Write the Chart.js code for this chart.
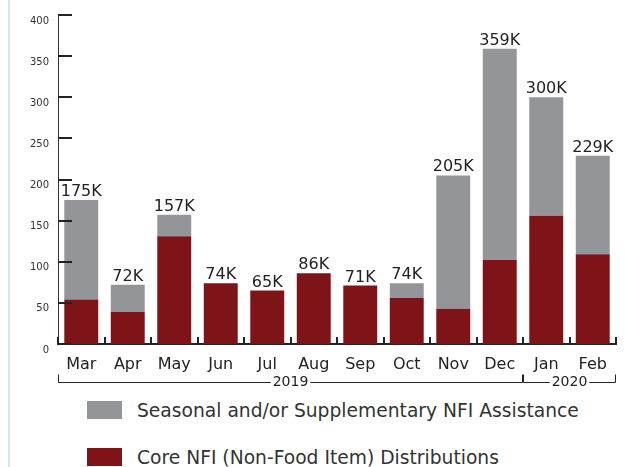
<!DOCTYPE html>
<html>
<head>
<meta charset="utf-8">
<script src="https://cdn.jsdelivr.net/npm/chart.js@4"></script>
<style>
  body { margin: 0; background: #fff; font-family: "DejaVu Sans", sans-serif; }
  #wrap { position: relative; width: 625px; height: 467px; overflow: hidden; background: #fff; }
  #edge { position: absolute; left: 8px; top: 0; width: 2px; height: 467px; background: #dbe5f1; }
  #box { position: absolute; left: 0; top: 0; width: 625px; height: 395px; }
  .item { position: absolute; left: 87px; height: 18px; }
  .item span.sw { position: absolute; left: 0; top: 0; width: 35px; height: 18px; }
  .item span.tx { position: absolute; left: 50px; top: 0; line-height: 19px; font-size: 18.7px; color: #333; white-space: nowrap; }
</style>
</head>
<body>
<div id="wrap">
  <div id="edge"></div>
  <div id="box"><canvas id="chart"></canvas></div>
  <div id="legend"></div>
</div>
<script>
// months and the year each belongs to
const months = ['Mar', 'Apr', 'May', 'Jun', 'Jul', 'Aug', 'Sep', 'Oct', 'Nov', 'Dec', 'Jan', 'Feb'];
const years = ['2019', '2019', '2019', '2019', '2019', '2019', '2019', '2019', '2019', '2019', '2020', '2020'];

// thousands of items
const coreNFI = [54, 39, 131, 74, 65, 86, 71, 56, 43, 102, 156, 109];
const seasonalNFI = [121, 33, 26, 0, 0, 0, 0, 18, 162, 257, 144, 120];

const seriesNames = ['Core NFI (Non-Food Item) Distributions', 'Seasonal and/or Supplementary NFI Assistance'];
const seriesColors = ['#7e1418', '#939598'];

const yMax = 400;
const yStep = 50;

const extras = {
    id: 'extras',
    afterDatasetsDraw(chart) {
        const { ctx, chartArea, scales: { x, y } } = chart;
        ctx.save();
        ctx.strokeStyle = '#222';

        // y tick marks point into the plot
        ctx.lineWidth = 2;
        y.ticks.forEach(t => {
            const py = Math.round(y.getPixelForValue(t.value));
            ctx.beginPath();
            ctx.moveTo(chartArea.left, py);
            ctx.lineTo(chartArea.left + 14, py);
            ctx.stroke();
        });

        // little ticks between months
        const step = x.getPixelForValue(1) - x.getPixelForValue(0);
        for (let i = 0; i <= months.length; i++) {
            const px = Math.round(x.getPixelForValue(i) - step / 2);
            ctx.beginPath();
            ctx.moveTo(px, chartArea.bottom);
            ctx.lineTo(px, chartArea.bottom - 7);
            ctx.stroke();
        }

        // totals on top
        const top = chart.getDatasetMeta(1);
        ctx.font = '16px "DejaVu Sans"';
        ctx.fillStyle = '#222';
        ctx.textAlign = 'center';
        ctx.textBaseline = 'alphabetic';
        top.data.forEach((bar, i) => {
            const total = coreNFI[i] + seasonalNFI[i];
            ctx.fillText(total + 'K', bar.x, bar.y - 4);
        });

        // year brackets
        const lineY = 382.5;
        ctx.lineWidth = 1;
        ctx.font = '14px "DejaVu Sans"';
        ctx.textBaseline = 'middle';
        let start = 0;
        for (let i = 1; i <= years.length; i++) {
            if (i === years.length || years[i] !== years[start]) {
                const x0 = Math.round(x.getPixelForValue(start) - step / 2) + 0.5;
                const x1 = Math.round(x.getPixelForValue(i - 1) + step / 2) - 0.5;
                const cx = (x0 + x1) / 2;
                const w = ctx.measureText(years[start]).width;
                ctx.beginPath();
                ctx.moveTo(x0, lineY - 8);
                ctx.lineTo(x0, lineY);
                ctx.lineTo(cx - w / 2 - 2, lineY);
                ctx.moveTo(cx + w / 2 + 2, lineY);
                ctx.lineTo(x1, lineY);
                ctx.lineTo(x1, lineY - 8);
                ctx.stroke();
                ctx.fillText(years[start], cx, lineY);
                start = i;
            }
        }
        ctx.restore();
    }
};

const ctx = document.getElementById('chart');

let chart = new Chart(ctx, {
    type: 'bar',
    data: {
        labels: months,
        datasets: [{
            label: seriesNames[0],
            data: coreNFI,
            backgroundColor: seriesColors[0]
        }, {
            label: seriesNames[1],
            data: seasonalNFI,
            backgroundColor: seriesColors[1]
        }]
    },
    options: {
        responsive: true,
        maintainAspectRatio: false,
        animation: false,
        layout: { padding: { top: 15, right: 9, left: 0, bottom: 0 } },
        datasets: { bar: { categoryPercentage: 1, barPercentage: 0.73 } },
        plugins: {
            legend: { display: false },
            tooltip: { enabled: false }
        },
        scales: {
            x: {
                stacked: true,
                grid: { display: false, drawTicks: false },
                border: { display: true, color: '#222', width: 2 },
                ticks: { padding: 11, color: '#222', font: { family: 'DejaVu Sans', size: 16 } },
                afterFit(scale) { scale.height = 51; }
            },
            y: {
                stacked: true,
                min: 0,
                max: yMax,
                grid: { display: false, drawTicks: false },
                border: { display: true, color: '#333', width: 1 },
                ticks: {
                    stepSize: yStep,
                    padding: 9,
                    labelOffset: 6,
                    color: '#333',
                    font: { family: 'DejaVu Sans', size: 10 }
                },
                afterFit(scale) { scale.width = 58; }
            }
        }
    },
    plugins: [extras]
});

// legend, seasonal listed first like the original
const legend = document.getElementById('legend');
[1, 0].forEach((k, row) => {
    const item = document.createElement('div');
    item.className = 'item';
    item.style.top = (401 + row * 47) + 'px';
    item.innerHTML = '<span class="sw" style="background:' + seriesColors[k] + '"></span><span class="tx"></span>';
    item.querySelector('.tx').textContent = seriesNames[k];
    legend.appendChild(item);
});
</script>
</body>
</html>
